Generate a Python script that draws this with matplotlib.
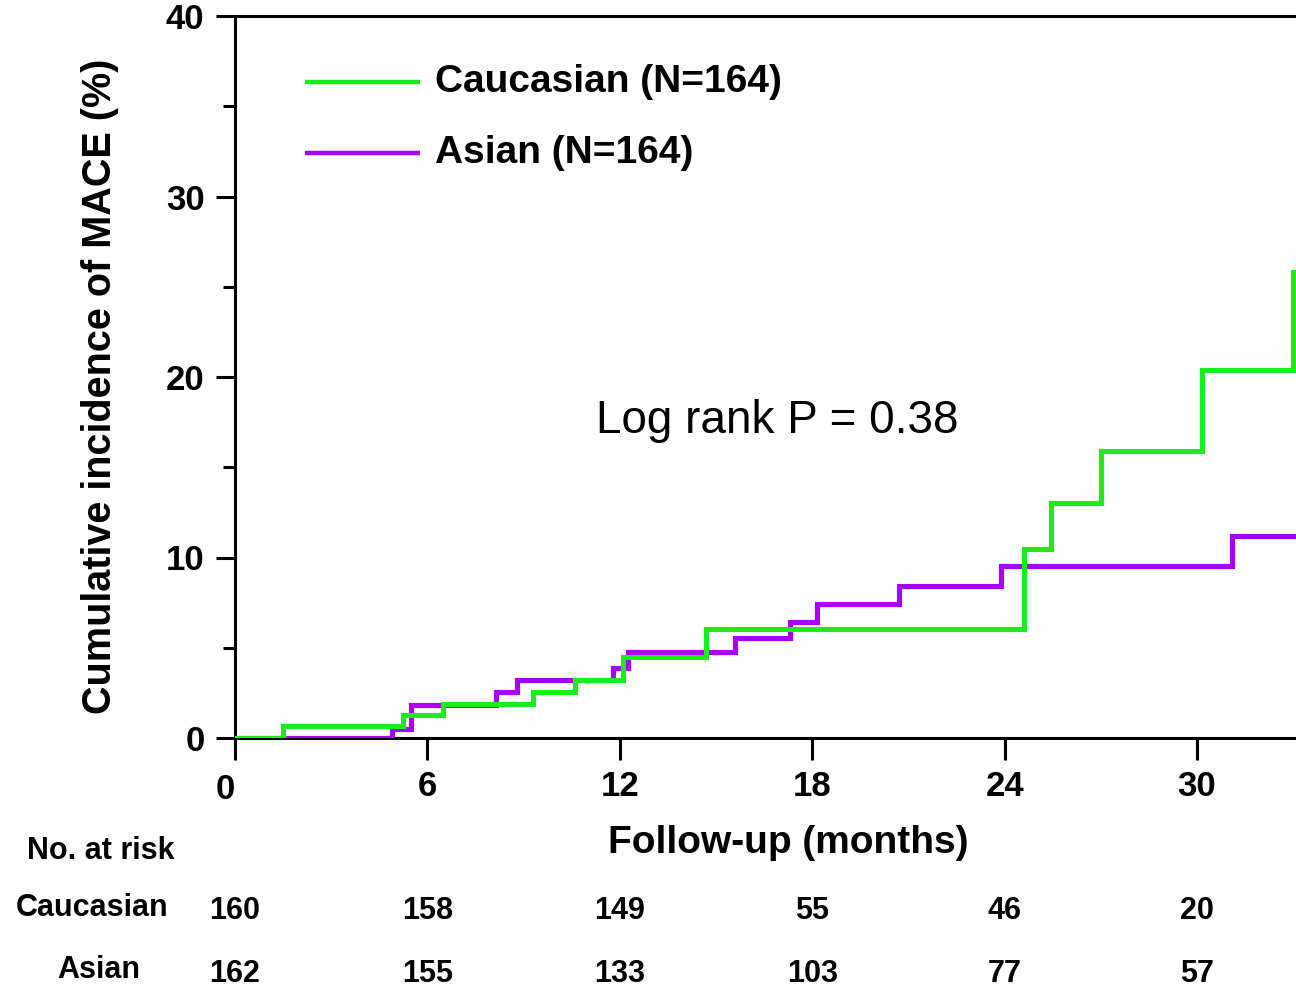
import matplotlib
matplotlib.use("Agg")
import matplotlib.pyplot as plt
import matplotlib.transforms as mtransforms
from matplotlib.ticker import MultipleLocator

plt.rcParams['font.family'] = ['Liberation Sans', 'DejaVu Sans']

# ---- data ----
cauc_t = [0, 1.5, 5.25, 6.5, 9.3, 10.6, 12.1, 14.7, 24.6, 25.45, 27.0, 30.15, 33.0, 33.1]
cauc_y = [0, 0.65, 1.3, 1.9, 2.55, 3.2, 4.5, 6.05, 10.45, 13.0, 15.9, 20.4, 25.8, 25.8]
asian_t = [0, 4.9, 5.5, 8.15, 8.8, 11.8, 12.25, 15.6, 17.3, 18.15, 20.7, 23.9, 31.1, 33.1]
asian_y = [0, 0.5, 1.85, 2.55, 3.2, 3.9, 4.75, 5.55, 6.4, 7.4, 8.4, 9.55, 11.2, 11.2]

series_labels = ["Caucasian (N=164)", "Asian (N=164)"]
colors = ["#1cec1c", "#a800f5"]

risk_times = [0, 6, 12, 18, 24, 30]
risk_groups = ["Caucasian", "Asian"]
risk_cauc = [160, 158, 149, 55, 46, 20]
risk_asian = [162, 155, 133, 103, 77, 57]
x_ticks = [0, 6, 12, 18, 24, 30]
y_ticks = [0, 10, 20, 30, 40]

W, H = 1296, 989
fig = plt.figure(figsize=(W / 100, H / 100), dpi=100)
left, right, bottom, top = 235, 1296, 738, 16
ax = fig.add_axes([left / W, 1 - bottom / H, (right - left) / W, (bottom - top) / H])

ax.plot(asian_t, asian_y, drawstyle='steps-post', color=colors[1], lw=3.7, zorder=3,
        solid_joinstyle='miter')
ax.plot(cauc_t, cauc_y, drawstyle='steps-post', color=colors[0], lw=3.7, zorder=4,
        solid_joinstyle='miter')

ax.set_xlim(0, (right - left) / ((1197 - 235) / 30))
ax.set_ylim(0, 40)

ax.spines['right'].set_visible(False)
for s in ['left', 'bottom', 'top']:
    ax.spines[s].set_linewidth(2.2)

ax.set_xticks(x_ticks)
ax.set_xticklabels([str(v) for v in x_ticks])
ax.set_yticks(y_ticks)
ax.set_yticklabels([str(v) for v in y_ticks])
ax.yaxis.set_minor_locator(MultipleLocator(5))
ax.tick_params(axis='y', which='major', direction='out', length=14, width=2.2, pad=8)
ax.tick_params(axis='y', which='minor', direction='out', length=8.5, width=2.2)
ax.tick_params(axis='x', which='major', direction='out', length=16, width=2.2, pad=7)
for lab in ax.get_xticklabels() + ax.get_yticklabels():
    lab.set_fontsize(25)
    lab.set_fontweight('bold')
# shift the "0" x label a little left/down, as in the reference
xl0 = ax.get_xticklabels()[0]
xl0.set_transform(xl0.get_transform() + mtransforms.ScaledTranslation(-10 / 100, -3 / 100, fig.dpi_scale_trans))

# y label
fig.text(100 / W, 1 - 386 / H, "Cumulative incidence of MACE (%)", rotation=90,
         ha='center', va='center', fontsize=28.5, fontweight='bold')

# legend (manual)
for i, (lab, c) in enumerate(zip(series_labels, colors)):
    yy = [82, 153][i]
    fy = (bottom - yy) / (bottom - top)
    ax.plot([(305 - left) / (right - left), (420 - left) / (right - left)], [fy, fy],
            transform=ax.transAxes, color=c, lw=3.2, clip_on=False, solid_capstyle='butt')
    ax.text((435 - left) / (right - left), fy, lab, transform=ax.transAxes,
            ha='left', va='center', fontsize=28, fontweight='bold')

# log rank text
fig.text(596 / W, 1 - 421 / H, "Log rank P = 0.38", ha='left', va='center', fontsize=33)

# x label
fig.text(788 / W, 1 - 843 / H, "Follow-up (months)", ha='center', va='center',
         fontsize=28, fontweight='bold')

# number at risk table
fig.text(101 / W, 1 - 851 / H, "No. at risk", ha='center', va='center', fontsize=22, fontweight='bold')
fig.text(92 / W, 1 - 908 / H, risk_groups[0], ha='center', va='center', fontsize=22, fontweight='bold')
fig.text(99 / W, 1 - 970 / H, risk_groups[1], ha='center', va='center', fontsize=22, fontweight='bold')
blend = mtransforms.blended_transform_factory(ax.transData, fig.transFigure)
for t, n1, n2 in zip(risk_times, risk_cauc, risk_asian):
    ax.text(t, 1 - 911 / H, str(n1), transform=blend, ha='center', va='center',
            fontsize=22, fontweight='bold', clip_on=False)
    ax.text(t, 1 - 974 / H, str(n2), transform=blend, ha='center', va='center',
            fontsize=22, fontweight='bold', clip_on=False)

fig.savefig("out.png", dpi=100)
